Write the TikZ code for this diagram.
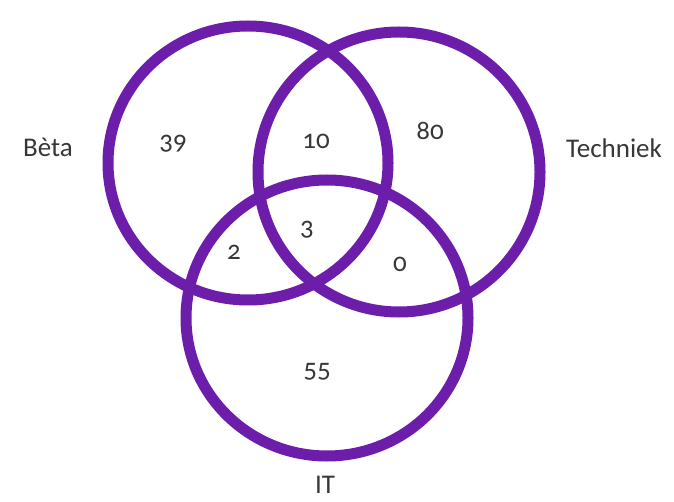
\documentclass[tikz,border=0pt]{standalone}
\usepackage{fontspec}
\setmainfont{Carlito}[Numbers=OldStyle]
\definecolor{vennpurple}{RGB}{108,30,170}
\definecolor{labelgray}{RGB}{55,55,55}
\begin{document}
\begin{tikzpicture}[x=1pt,y=-1pt,
  ring/.style={draw=vennpurple,line width=11pt},
  lbl/.style={text=labelgray,font=\fontsize{27}{31}\selectfont,inner sep=0pt,anchor=center}]
\useasboundingbox (0,0) rectangle (674,502);
\fill[white] (0,0) rectangle (674,502);
\draw[ring] (248,163) ellipse [x radius=140, y radius=137];
\draw[ring] (399,172) ellipse [x radius=141, y radius=140];
\draw[ring] (327,318) ellipse [x radius=141, y radius=138];
\node[lbl] (beta) at (48,147) {Bèta};
\node[lbl] (techniek) at (614,148) {Techniek};
\node[lbl] (it) at (325,485) {IT};
\node[lbl] (n39) at (173,144) {39};
\node[lbl] (n10) at (316,141) {10};
\node[lbl] (n80) at (430,131) {80};
\node[lbl] (n3) at (307,230) {3};
\node[lbl] (n2) at (234,252) {2};
\node[lbl] (n0) at (400,264) {0};
\node[lbl] (n55) at (317,372) {55};
\end{tikzpicture}
\end{document}
